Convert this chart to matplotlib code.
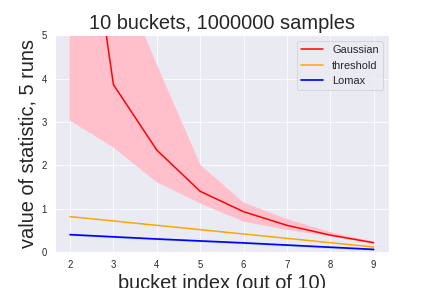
import numpy as np
import matplotlib
matplotlib.use('Agg')
import matplotlib.pyplot as plt
import seaborn as sns

sns.set_theme(style='darkgrid', context='paper')
plt.rcParams['font.family'] = ['Liberation Sans', 'DejaVu Sans']

buckets = [2, 3, 4, 5, 6, 7, 8, 9]

gauss_mid = [10.8, 3.86, 2.35, 1.40, 0.93, 0.615, 0.39, 0.215]
gauss_lo = [3.04, 2.42, 1.62, 1.13, 0.71, 0.52, 0.37, 0.20]
gauss_hi = [15.0, 6.7, 4.3, 2.0, 1.13, 0.75, 0.45, 0.23]

thresh_mid = [0.815, 0.715, 0.615, 0.515, 0.415, 0.315, 0.215, 0.115]
lomax_mid = [0.40, 0.35, 0.30, 0.255, 0.21, 0.16, 0.11, 0.06]
lomax_lo = [0.39, 0.34, 0.29, 0.245, 0.20, 0.15, 0.10, 0.05]
lomax_hi = [0.41, 0.36, 0.31, 0.265, 0.22, 0.17, 0.12, 0.07]

fig = plt.figure(figsize=(6, 4), dpi=72)
ax = fig.add_axes([0.127, 0.125, 0.773, 0.753])

ax.fill_between(buckets, gauss_lo, gauss_hi, color='pink')
ax.fill_between(buckets, lomax_lo, lomax_hi, color='lightblue')
ax.plot(buckets, gauss_mid, color='red', lw=1.5, label='Gaussian')
ax.plot(buckets, thresh_mid, color='orange', lw=1.5, label='threshold')
ax.plot(buckets, lomax_mid, color='blue', lw=1.7, label='Lomax')

ax.set_ylim(0, 5)
ax.tick_params(labelsize=9.5)
ax.set_title('10 buckets, 1000000 samples', fontsize=20)
ax.set_xlabel('bucket index (out of 10)', fontsize=20)
ax.set_ylabel('value of statistic, 5 runs', fontsize=20)
ax.legend(loc='upper right', fontsize=11)

fig.savefig('out.png', dpi=72)
